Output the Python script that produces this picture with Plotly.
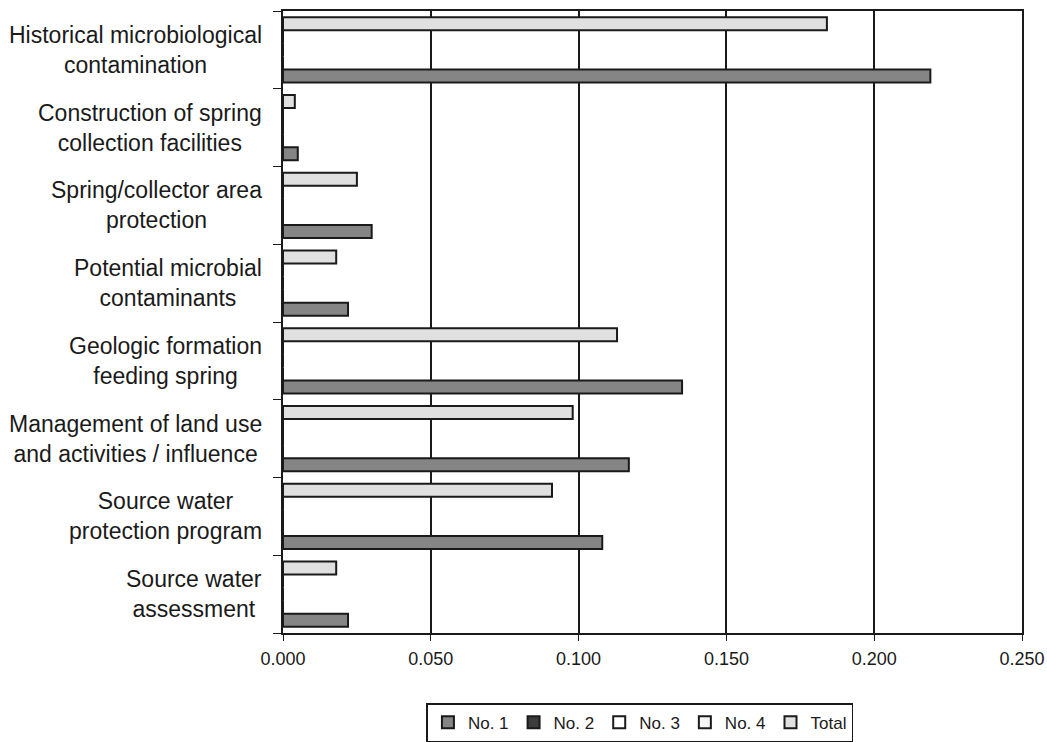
import plotly.graph_objects as go

# categories listed top to bottom as in the chart
categories = [
    "Historical microbiological<br>contamination",
    "Construction of spring<br>collection facilities",
    "Spring/collector area<br>protection",
    "Potential microbial<br>contaminants",
    "Geologic formation<br>feeding spring",
    "Management of land use<br>and activities / influence",
    "Source water<br>protection program",
    "Source water<br>assessment",
]
no1 = [0.219, 0.005, 0.030, 0.022, 0.135, 0.117, 0.108, 0.022]
no2 = [0, 0, 0, 0, 0, 0, 0, 0]
no3 = [0, 0, 0, 0, 0, 0, 0, 0]
no4 = [0, 0, 0, 0, 0, 0, 0, 0]
total = [0.184, 0.004, 0.025, 0.018, 0.113, 0.098, 0.091, 0.018]
x_ticks = [0.0, 0.05, 0.10, 0.15, 0.20, 0.25]

series = [
    ("No. 1", no1, "#858585"),
    ("No. 2", no2, "#3c3c3c"),
    ("No. 3", no3, "#ffffff"),
    ("No. 4", no4, "#f4f4f4"),
    ("Total", total, "#e0e0e0"),
]

fig = go.Figure()
for name, vals, col in series:
    fig.add_trace(go.Bar(
        y=categories, x=vals, name=name, orientation="h",
        marker=dict(color=col, line=dict(color="#1a1a1a", width=2)),
    ))

# centred two-line category labels
for cat in categories:
    fig.add_annotation(
        x=-0.026, xref="paper", y=cat, yref="y", text=cat, showarrow=False,
        xanchor="right", align="center",
        font=dict(family="Liberation Sans, Arial", size=23, color="#1a1a1a"),
    )

fig.update_layout(
    width=1047, height=742,
    margin=dict(l=283, r=25, t=11, b=109, autoexpand=False),
    plot_bgcolor="white", paper_bgcolor="white",
    barmode="group", bargap=0.16, bargroupgap=0,
    font=dict(family="Liberation Sans, Arial", size=18, color="#1a1a1a"),
    showlegend=True,
    legend=dict(
        orientation="h", x=0.483, xanchor="center", y=-0.113, yanchor="top",
        bordercolor="#1a1a1a", borderwidth=1.5, traceorder="normal",
        font=dict(size=17), itemwidth=30, tracegroupgap=0,
    ),
)
fig.update_xaxes(
    range=[0, 0.25], tickvals=x_ticks, tickformat=".3f",
    showgrid=True, gridcolor="#1a1a1a", gridwidth=1.5,
    showline=True, linecolor="#1a1a1a", linewidth=1.5, mirror=True,
    ticks="outside", ticklen=6, tickcolor="#1a1a1a", zeroline=False,
    ticklabelstandoff=3, automargin=False,
)
fig.update_yaxes(
    categoryorder="array", categoryarray=categories[::-1],
    showticklabels=False, showgrid=False, automargin=False,
    showline=True, linecolor="#1a1a1a", linewidth=1.5, mirror=True,
    ticks="outside", tickson="boundaries", ticklen=8, tickcolor="#1a1a1a",
)

# drop the page's default body margin so the figure fills the window exactly
fig.write_html("out.html", config={"displayModeBar": False},
               post_script="document.body.style.margin='0';")
